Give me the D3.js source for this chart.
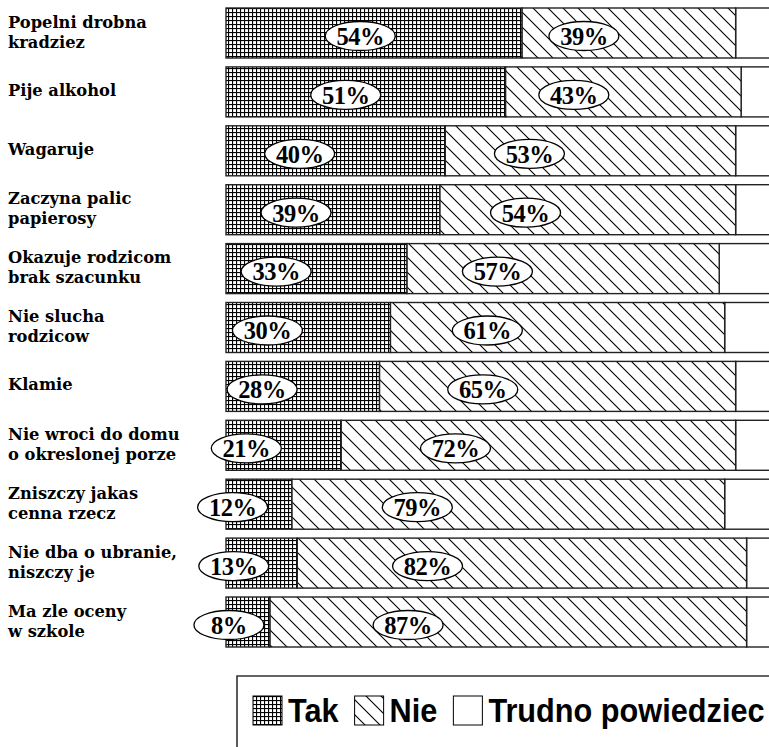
<!DOCTYPE html>
<html><head><meta charset="utf-8">
<script src="https://cdn.jsdelivr.net/npm/d3@7"></script>
<style>html,body{margin:0;padding:0;background:#fff;overflow:hidden}</style>
</head><body>
<svg id="chart" width="769" height="747"></svg>
<script>
const categories = [
  "Popelni drobna\nkradziez",
  "Pije alkohol",
  "Wagaruje",
  "Zaczyna palic\npapierosy",
  "Okazuje rodzicom\nbrak szacunku",
  "Nie slucha\nrodzicow",
  "Klamie",
  "Nie wroci do domu\no okreslonej porze",
  "Zniszczy jakas\ncenna rzecz",
  "Nie dba o ubranie,\nniszczy je",
  "Ma zle oceny\nw szkole"
];
const takValues = [54, 51, 40, 39, 33, 30, 28, 21, 12, 13, 8];
const nieValues = [39, 43, 53, 54, 57, 61, 65, 72, 79, 82, 87];
const seriesNames = ["Tak", "Nie", "Trudno powiedziec"];

const svg = d3.select("#chart");
const defs = svg.append("defs");

const pg = defs.append("pattern").attr("id","grid").attr("patternUnits","userSpaceOnUse")
  .attr("width",4).attr("height",4);
pg.append("rect").attr("width",4).attr("height",4).attr("fill","#fff");
pg.append("rect").attr("x",0).attr("y",0).attr("width",4).attr("height",1.1).attr("fill","#000");
pg.append("rect").attr("x",0).attr("y",0).attr("width",1.1).attr("height",4).attr("fill","#000");

const ph = defs.append("pattern").attr("id","hatch").attr("patternUnits","userSpaceOnUse")
  .attr("width",15).attr("height",15);
ph.append("rect").attr("width",15).attr("height",15).attr("fill","#fff");
ph.append("path").attr("d","M-1,-1 L16,16 M-16,-1 L1,16 M14,-1 L31,16")
  .attr("stroke","#000").attr("stroke-width",1.1).attr("fill","none");

const x = d3.scaleLinear().domain([0,100]).range([226, 774]);
const y = d3.scaleBand().domain(categories).range([8, 647]).paddingInner(0.151).paddingOuter(0);

const rows = categories.map((c,i)=>({cat:c, tak:takValues[i], nie:nieValues[i]}));

const g = svg.append("g");
const row = g.selectAll("g.row").data(rows).join("g").attr("class","row");

row.append("rect")
  .attr("x", d=>x(d.tak+d.nie)).attr("y", d=>y(d.cat))
  .attr("width", d=>x(100)-x(d.tak+d.nie)).attr("height", y.bandwidth())
  .attr("fill","#fff").attr("stroke","#222").attr("stroke-width",1.4);
row.append("rect")
  .attr("x", d=>x(d.tak)).attr("y", d=>y(d.cat))
  .attr("width", d=>x(d.tak+d.nie)-x(d.tak)).attr("height", y.bandwidth())
  .attr("fill","url(#hatch)").attr("stroke","#222").attr("stroke-width",1.4);
row.append("rect")
  .attr("x", x(0)).attr("y", d=>y(d.cat))
  .attr("width", d=>x(d.tak)-x(0)).attr("height", y.bandwidth())
  .attr("fill","url(#grid)").attr("stroke","#222").attr("stroke-width",1.4);

function bubble(sel, cx, cy, txt){
  const b = sel.append("g").attr("transform", d=>`translate(${cx(d)},${cy(d)})`);
  b.append("ellipse").attr("rx",35).attr("ry",14.5).attr("fill","#fff")
    .attr("stroke","#000").attr("stroke-width",1.3);
  b.append("text").attr("text-anchor","middle").attr("dy","0.36em")
    .attr("font-family","'Liberation Serif','Times New Roman',serif")
    .attr("font-weight","bold").attr("font-size",24.5).attr("fill","#000")
    .attr("letter-spacing","-0.5")
    .text(txt);
}
const cyOf = d => y(d.cat) + y.bandwidth()/2 + 3;
bubble(row, d=>x(0.0084*d.tak*d.tak), cyOf, d=>d.tak+"%");
bubble(row, d=>x(d.tak + 0.29*d.nie), cyOf, d=>d.nie+"%");

const lab = svg.append("g").selectAll("text").data(rows).join("text")
  .attr("font-family","'DejaVu Serif',serif").attr("font-weight","bold")
  .attr("font-size",16.3).attr("fill","#000");
lab.each(function(d){
  const lines = d.cat.split("\n");
  const c = y(d.cat) + y.bandwidth()/2;
  const t = d3.select(this);
  lines.forEach((ln,k)=>{
    const mid = lines.length===1 ? c-2 : c-11 + k*20;
    t.append("tspan").attr("x",8).attr("y",mid).attr("dy","0.35em").text(ln);
  });
});

const lg = svg.append("g");
lg.append("path").attr("d","M237,747 L237,676 L769,676")
  .attr("fill","none").attr("stroke","#333").attr("stroke-width",1.6);
const fills = ["url(#grid)","url(#hatch)","#fff"];
let lx = 253;
seriesNames.forEach((name,i)=>{
  lg.append("rect").attr("x",lx).attr("y",696).attr("width",29).attr("height",29)
    .attr("fill",fills[i]).attr("stroke","#000").attr("stroke-width",1);
  lx += 29 + 6;
  const t = lg.append("text").attr("x",0).attr("y",0)
    .attr("font-family","'Liberation Sans',Arial,sans-serif").attr("font-weight","bold")
    .attr("font-size",33).attr("fill","#000").text(name);
  const w = t.node().getComputedTextLength();
  const sx = 0.93;
  t.attr("transform",`translate(${lx},722) scale(${sx},1)`);
  lx += w*sx + 16;
});
</script>
</body></html>
